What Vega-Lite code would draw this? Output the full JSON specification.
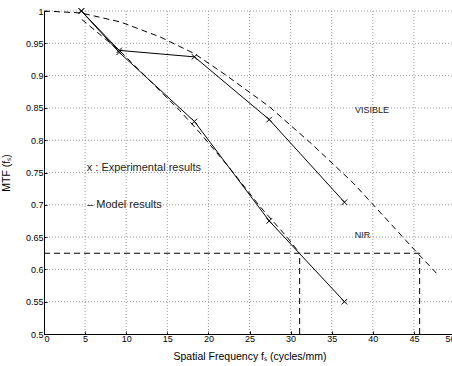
{
  "$schema": "https://vega.github.io/schema/vega-lite/v6.json",
  "width": 411,
  "height": 323,
  "autosize": "none",
  "padding": {"left": 44, "top": 11, "right": 0, "bottom": 32},
  "background": "white",
  "config": {
    "view": {"stroke": null},
    "font": "Liberation Sans",
    "axis": {
      "domainColor": "black",
      "domainWidth": 1,
      "tickColor": "black",
      "tickSize": -3,
      "labelColor": "black",
      "labelFont": "Liberation Sans",
      "labelFontSize": 9,
      "labelOverlap": false,
      "titleFont": "Liberation Sans",
      "titleFontWeight": "normal",
      "titleColor": "black",
      "titleFontSize": 10.5,
      "grid": false
    }
  },
  "datasets": {
    "gridx": [{"x": 5}, {"x": 10}, {"x": 15}, {"x": 20}, {"x": 25}, {"x": 30}, {"x": 35}, {"x": 40}, {"x": 45}, {"x": 50}],
    "gridy": [{"y": 0.55}, {"y": 0.6}, {"y": 0.65}, {"y": 0.7}, {"y": 0.75}, {"y": 0.8}, {"y": 0.85}, {"y": 0.9}, {"y": 0.95}, {"y": 1}],
    "exp": [
      {"series": "VIS", "x": 4.55, "y": 1.0},
      {"series": "VIS", "x": 9.15, "y": 0.939},
      {"series": "VIS", "x": 18.3, "y": 0.929},
      {"series": "VIS", "x": 27.4, "y": 0.832},
      {"series": "VIS", "x": 36.55, "y": 0.704},
      {"series": "NIR", "x": 4.55, "y": 1.0},
      {"series": "NIR", "x": 9.15, "y": 0.936},
      {"series": "NIR", "x": 18.3, "y": 0.829},
      {"series": "NIR", "x": 27.4, "y": 0.675},
      {"series": "NIR", "x": 36.55, "y": 0.55}
    ],
    "model": [
      {"series": "VIS", "i": 0, "x": 0, "y": 1.0},
      {"series": "VIS", "i": 1, "x": 4.5, "y": 0.997},
      {"series": "VIS", "i": 2, "x": 9.3, "y": 0.983},
      {"series": "VIS", "i": 3, "x": 14.1, "y": 0.96},
      {"series": "VIS", "i": 4, "x": 18.3, "y": 0.934},
      {"series": "VIS", "i": 5, "x": 22.1, "y": 0.901},
      {"series": "VIS", "i": 6, "x": 27.4, "y": 0.852},
      {"series": "VIS", "i": 7, "x": 32.5, "y": 0.795},
      {"series": "VIS", "i": 8, "x": 37.6, "y": 0.734},
      {"series": "VIS", "i": 9, "x": 41.5, "y": 0.68},
      {"series": "VIS", "i": 10, "x": 45.45, "y": 0.625},
      {"series": "VIS", "i": 11, "x": 47.9, "y": 0.592},
      {"series": "NIRM", "i": 0, "x": 4.6, "y": 0.987},
      {"series": "NIRM", "i": 1, "x": 9.5, "y": 0.935},
      {"series": "NIRM", "i": 2, "x": 12.9, "y": 0.892},
      {"series": "NIRM", "i": 3, "x": 16.5, "y": 0.846},
      {"series": "NIRM", "i": 4, "x": 19.0, "y": 0.811},
      {"series": "NIRM", "i": 5, "x": 22.7, "y": 0.755},
      {"series": "NIRM", "i": 6, "x": 26.3, "y": 0.697},
      {"series": "NIRM", "i": 7, "x": 29.5, "y": 0.651},
      {"series": "NIRM", "i": 8, "x": 31.1, "y": 0.625},
      {"series": "H", "i": 0, "x": 0, "y": 0.625},
      {"series": "H", "i": 1, "x": 45.7, "y": 0.625},
      {"series": "V1", "i": 0, "x": 31.1, "y": 0.5},
      {"series": "V1", "i": 1, "x": 31.1, "y": 0.625},
      {"series": "V2", "i": 0, "x": 45.7, "y": 0.5},
      {"series": "V2", "i": 1, "x": 45.7, "y": 0.625}
    ],
    "labelsC": [
      {"x": 39.9, "y": 0.847, "t": "VISIBLE"},
      {"x": 38.75, "y": 0.653, "t": "NIR"}
    ],
    "labelsL": [
      {"x": 5.2, "y": 0.7565, "t": "x : Experimental results"},
      {"x": 5.25, "y": 0.70, "t": "– Model results"}
    ]
  },
  "layer": [
    {
      "data": {"name": "gridx"},
      "mark": {"type": "rule", "color": "#999999", "strokeWidth": 1, "strokeDash": [1, 2]},
      "encoding": {
        "x": {"field": "x", "type": "quantitative", "scale": {"domain": [0, 50], "nice": false}}
      }
    },
    {
      "data": {"name": "gridy"},
      "mark": {"type": "rule", "color": "#999999", "strokeWidth": 1, "strokeDash": [1, 2]},
      "encoding": {
        "y": {"field": "y", "type": "quantitative", "scale": {"domain": [0.5, 1], "nice": false, "zero": false}}
      }
    },
    {
      "data": {"name": "model"},
      "mark": {"type": "line", "color": "black", "strokeWidth": 1, "strokeDash": [6, 4]},
      "encoding": {
        "x": {
          "field": "x", "type": "quantitative",
          "scale": {"domain": [0, 50], "nice": false},
          "axis": {"values": [0, 5, 10, 15, 20, 25, 30, 35, 40, 45, 50], "tickCount": 11, "format": "~g", "title": "Spatial Frequency fₛ (cycles/mm)", "titlePadding": 8, "labelPadding": 3}
        },
        "y": {
          "field": "y", "type": "quantitative",
          "scale": {"domain": [0.5, 1], "nice": false, "zero": false},
          "axis": {"values": [0.5, 0.55, 0.6, 0.65, 0.7, 0.75, 0.8, 0.85, 0.9, 0.95, 1], "tickCount": 11, "format": "~g", "title": "MTF (fₛ)", "titlePadding": 14, "labelPadding": 4}
        },
        "detail": {"field": "series"},
        "order": {"field": "i"}
      }
    },
    {
      "data": {"name": "exp"},
      "mark": {"type": "line", "color": "black", "strokeWidth": 1},
      "encoding": {
        "x": {"field": "x", "type": "quantitative"},
        "y": {"field": "y", "type": "quantitative"},
        "detail": {"field": "series"}
      }
    },
    {
      "data": {"name": "exp"},
      "mark": {"type": "point", "shape": "M-1,-1L1,1M-1,1L1,-1", "size": 30, "filled": false, "color": "black", "strokeWidth": 1, "opacity": 1},
      "encoding": {
        "x": {"field": "x", "type": "quantitative"},
        "y": {"field": "y", "type": "quantitative"}
      }
    },
    {
      "data": {"name": "labelsC"},
      "mark": {"type": "text", "color": "#222222", "font": "Liberation Sans", "baseline": "middle", "align": "center", "fontSize": 9},
      "encoding": {
        "x": {"field": "x", "type": "quantitative"},
        "y": {"field": "y", "type": "quantitative"},
        "text": {"field": "t"}
      }
    },
    {
      "data": {"name": "labelsL"},
      "mark": {"type": "text", "color": "#222222", "font": "Liberation Sans", "baseline": "middle", "align": "left", "fontSize": 11},
      "encoding": {
        "x": {"field": "x", "type": "quantitative"},
        "y": {"field": "y", "type": "quantitative"},
        "text": {"field": "t"}
      }
    }
  ]
}
